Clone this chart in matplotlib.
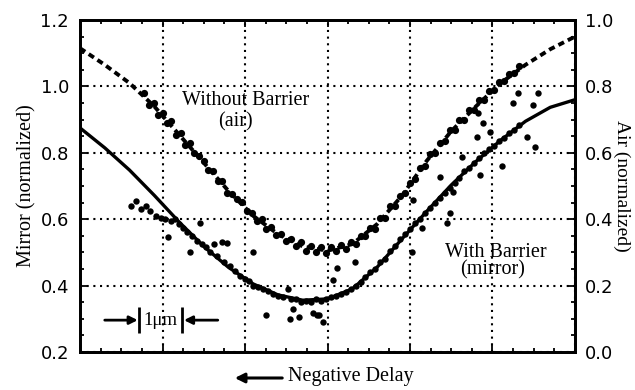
import matplotlib
matplotlib.use('Agg')
from matplotlib import pyplot as plt
from matplotlib.ticker import MultipleLocator, FormatStrFormatter

# fitted curves (x in grid divisions of the delay axis)
fit_x = [0.0, 0.3, 0.6, 0.9, 1.2, 1.5, 1.8, 2.1, 2.4, 2.7, 3.0, 3.3, 3.6, 3.9,
         4.2, 4.5, 4.8, 5.1, 5.4, 5.7, 6.0]
# air fit, right axis units
air_fit = [0.915, 0.865, 0.81, 0.74, 0.655, 0.57, 0.485, 0.41, 0.355, 0.318, 0.305,
           0.325, 0.385, 0.47, 0.575, 0.665, 0.74, 0.81, 0.865, 0.912, 0.95]
# mirror fit, left axis units
mirror_fit = [0.875, 0.815, 0.748, 0.672, 0.592, 0.518, 0.455, 0.405, 0.372, 0.356, 0.36,
              0.39, 0.455, 0.54, 0.623, 0.703, 0.774, 0.838, 0.895, 0.937, 0.96]

# measured points, without barrier (air), right axis units
air_x = [0.78, 0.84, 0.90, 0.95, 1.00, 1.05, 1.10, 1.16, 1.22, 1.27, 1.33, 1.38, 1.44,
         1.50, 1.55, 1.61, 1.67, 1.72, 1.78, 1.84, 1.90, 1.96, 2.02, 2.08, 2.14, 2.20,
         2.26, 2.32, 2.38, 2.44, 2.50, 2.56, 2.62, 2.68, 2.74, 2.80, 2.86, 2.92, 2.98,
         3.04, 3.10, 3.16, 3.22, 3.28, 3.34, 3.40, 3.46, 3.52, 3.58, 3.64, 3.70, 3.76,
         3.82, 3.88, 3.94, 4.00, 4.06, 4.12, 4.18, 4.24, 4.30, 4.36, 4.42, 4.48, 4.54,
         4.60, 4.66, 4.72, 4.78, 4.84, 4.90, 4.96, 5.02, 5.08, 5.14, 5.20, 5.26, 5.32]
air_y = [0.78, 0.745, 0.75, 0.715, 0.72, 0.69, 0.695, 0.655, 0.66, 0.625, 0.63, 0.60,
         0.59, 0.575, 0.548, 0.545, 0.515, 0.515, 0.48, 0.475, 0.46, 0.452, 0.425, 0.42,
         0.395, 0.40, 0.37, 0.378, 0.352, 0.355, 0.335, 0.34, 0.32, 0.33, 0.305, 0.318,
         0.30, 0.315, 0.298, 0.315, 0.305, 0.322, 0.31, 0.332, 0.325, 0.35, 0.348, 0.375,
         0.372, 0.405, 0.405, 0.44, 0.44, 0.47, 0.478, 0.51, 0.52, 0.555, 0.56, 0.595,
         0.60, 0.63, 0.635, 0.668, 0.67, 0.70, 0.70, 0.728, 0.73, 0.758, 0.76, 0.785,
         0.788, 0.812, 0.815, 0.838, 0.84, 0.862]

# measured points, with barrier (mirror), left axis units
mirror_x = [0.62, 0.68, 0.74, 0.80, 0.85, 0.92, 0.98, 1.03, 1.10, 1.07, 1.15, 1.20,
            1.25, 1.30, 1.33, 1.36, 1.42, 1.45, 1.48, 1.53, 1.58, 1.62, 1.66, 1.72,
            1.78, 1.74, 1.82, 1.88, 1.94, 2.00, 2.05, 2.10, 2.16, 2.22, 2.28, 2.34,
            2.40, 2.46, 2.52, 2.56, 2.62, 2.68, 2.74, 2.80, 2.86, 2.92, 2.98, 3.04,
            3.10, 3.16, 3.22, 3.28, 3.34, 3.40, 3.46, 3.52, 3.58, 3.64, 3.70, 3.76,
            3.82, 3.88, 3.94, 4.00, 4.06, 4.12, 4.18, 4.24, 4.30, 4.36, 4.42, 4.48,
            4.54, 4.60, 4.66, 4.72, 4.78, 4.84, 4.90, 4.96, 5.02, 5.08, 5.14, 5.20,
            5.26, 5.32,
            2.10, 2.26, 2.55, 2.65, 2.87, 2.95, 2.58, 2.83, 3.11, 3.07, 3.33, 2.90,
            4.04, 4.36, 4.63, 4.52, 4.48, 4.45, 4.85, 5.12, 4.81, 4.97, 4.89, 4.83,
            5.25, 5.31, 5.49, 5.55, 5.52, 5.42, 4.15, 4.02]
mirror_y = [0.64, 0.655, 0.63, 0.64, 0.625, 0.61, 0.605, 0.60, 0.595, 0.545, 0.60, 0.585,
            0.575, 0.56, 0.50, 0.55, 0.535, 0.59, 0.525, 0.515, 0.50, 0.525, 0.49, 0.53,
            0.528, 0.47, 0.46, 0.445, 0.43, 0.42, 0.415, 0.40, 0.395, 0.39, 0.385, 0.375,
            0.37, 0.365, 0.39, 0.36, 0.36, 0.35, 0.355, 0.35, 0.36, 0.355, 0.36, 0.365,
            0.37, 0.375, 0.38, 0.39, 0.40, 0.41, 0.425, 0.44, 0.45, 0.47, 0.48, 0.505,
            0.52, 0.54, 0.555, 0.57, 0.59, 0.60, 0.62, 0.635, 0.65, 0.665, 0.68, 0.695,
            0.71, 0.725, 0.745, 0.755, 0.77, 0.785, 0.80, 0.81, 0.82, 0.835, 0.845, 0.86,
            0.87, 0.885,
            0.50, 0.31, 0.30, 0.305, 0.31, 0.29, 0.33, 0.317, 0.453, 0.417, 0.47, 0.31,
            0.658, 0.727, 0.787, 0.682, 0.619, 0.589, 0.733, 0.76, 0.848, 0.862, 0.89, 0.92,
            0.95, 0.98, 0.944, 0.98, 0.818, 0.848, 0.573, 0.50]

serif = 'Liberation Serif'
plt.rcParams['font.family'] = ['DejaVu Sans']

fig = plt.figure(figsize=(6.35, 3.9), dpi=100)
ax = fig.add_axes([0.126, 0.0974, 0.7795, 0.8513])
ax2 = ax.twinx()

ax.set_xlim(0, 6)
ax.set_ylim(0.2, 1.2)
ax2.set_ylim(0.0, 1.0)

ax.xaxis.set_major_locator(MultipleLocator(1))
ax.xaxis.set_minor_locator(MultipleLocator(0.25))
ax.yaxis.set_major_locator(MultipleLocator(0.2))
ax.yaxis.set_minor_locator(MultipleLocator(0.05))
ax2.yaxis.set_major_locator(MultipleLocator(0.2))
ax2.yaxis.set_minor_locator(MultipleLocator(0.05))
ax.yaxis.set_major_formatter(FormatStrFormatter('%.1f'))
ax2.yaxis.set_major_formatter(FormatStrFormatter('%.1f'))
ax.set_xticklabels([])

ax.grid(True, which='major', color='black', linestyle=(0, (1, 2.2)), linewidth=1.5)

ax.tick_params(axis='both', which='both', direction='in', top=True, right=False,
               color='black', width=1.3)
ax.tick_params(axis='both', which='major', length=5)
ax.tick_params(axis='both', which='minor', length=3)
ax.tick_params(axis='y', which='major', labelsize=13, pad=8)
ax2.tick_params(axis='y', which='both', direction='in', width=1.3)
ax2.tick_params(axis='y', which='major', length=5, labelsize=13, pad=7)
ax2.tick_params(axis='y', which='minor', length=3)

for a in (ax, ax2):
    for s in a.spines.values():
        s.set_linewidth(2)

# mirror (left axis)
ax.plot(mirror_x, mirror_y, 'o', color='black', markersize=4.6, markeredgewidth=0)
ax.plot(fit_x, mirror_fit, '-', color='black', linewidth=2.4, solid_capstyle='round')

# air (right axis)
ax2.plot(air_x, air_y, 'o', color='black', markersize=5.2, markeredgewidth=0)
ax2.plot(fit_x, air_fit, color='black', linewidth=2.8, linestyle=(0, (1.6, 1.1)))

ax.set_ylabel('Mirror (normalized)', family=serif, fontsize=14.5, labelpad=3)
ax2.set_ylabel('Air (normalized)', family=serif, fontsize=14, rotation=270,
               va='bottom', labelpad=0)

ax.text(2.01, 0.959, 'Without Barrier', ha='center', va='center', family=serif, fontsize=14.5)
ax.text(1.89, 0.893, '(air)', ha='center', va='center', family=serif, fontsize=14.5)
ax.text(5.04, 0.501, 'With Barrier', ha='center', va='center', family=serif, fontsize=14.5)
ax.text(5.0, 0.447, '(mirror)', ha='center', va='center', family=serif, fontsize=14.5)

# 1 um scale marker
arrow = dict(arrowstyle='-|>', color='black', lw=2, mutation_scale=12, shrinkA=0, shrinkB=0)
ax.annotate('', xy=(0.70, 0.296), xytext=(0.30, 0.296), arrowprops=arrow)
ax.annotate('', xy=(1.26, 0.296), xytext=(1.67, 0.296), arrowprops=arrow)
ax.vlines([0.72, 1.24], 0.258, 0.336, color='black', linewidth=2)
ax.text(0.98, 0.296, '1\u03bcm', ha='center', va='center', family=serif, fontsize=13.5)

# x label with arrow
fig.text(288 / 635, 1 - 376 / 390, 'Negative Delay', ha='left', va='center',
         family=serif, fontsize=14.5)
fig.patches.append(matplotlib.patches.FancyArrowPatch(
    (285 / 635, 1 - 378 / 390), (232 / 635, 1 - 378 / 390), transform=fig.transFigure,
    arrowstyle='-|>', mutation_scale=14, lw=2.2, color='black'))

fig.savefig('out.png', dpi=100)
